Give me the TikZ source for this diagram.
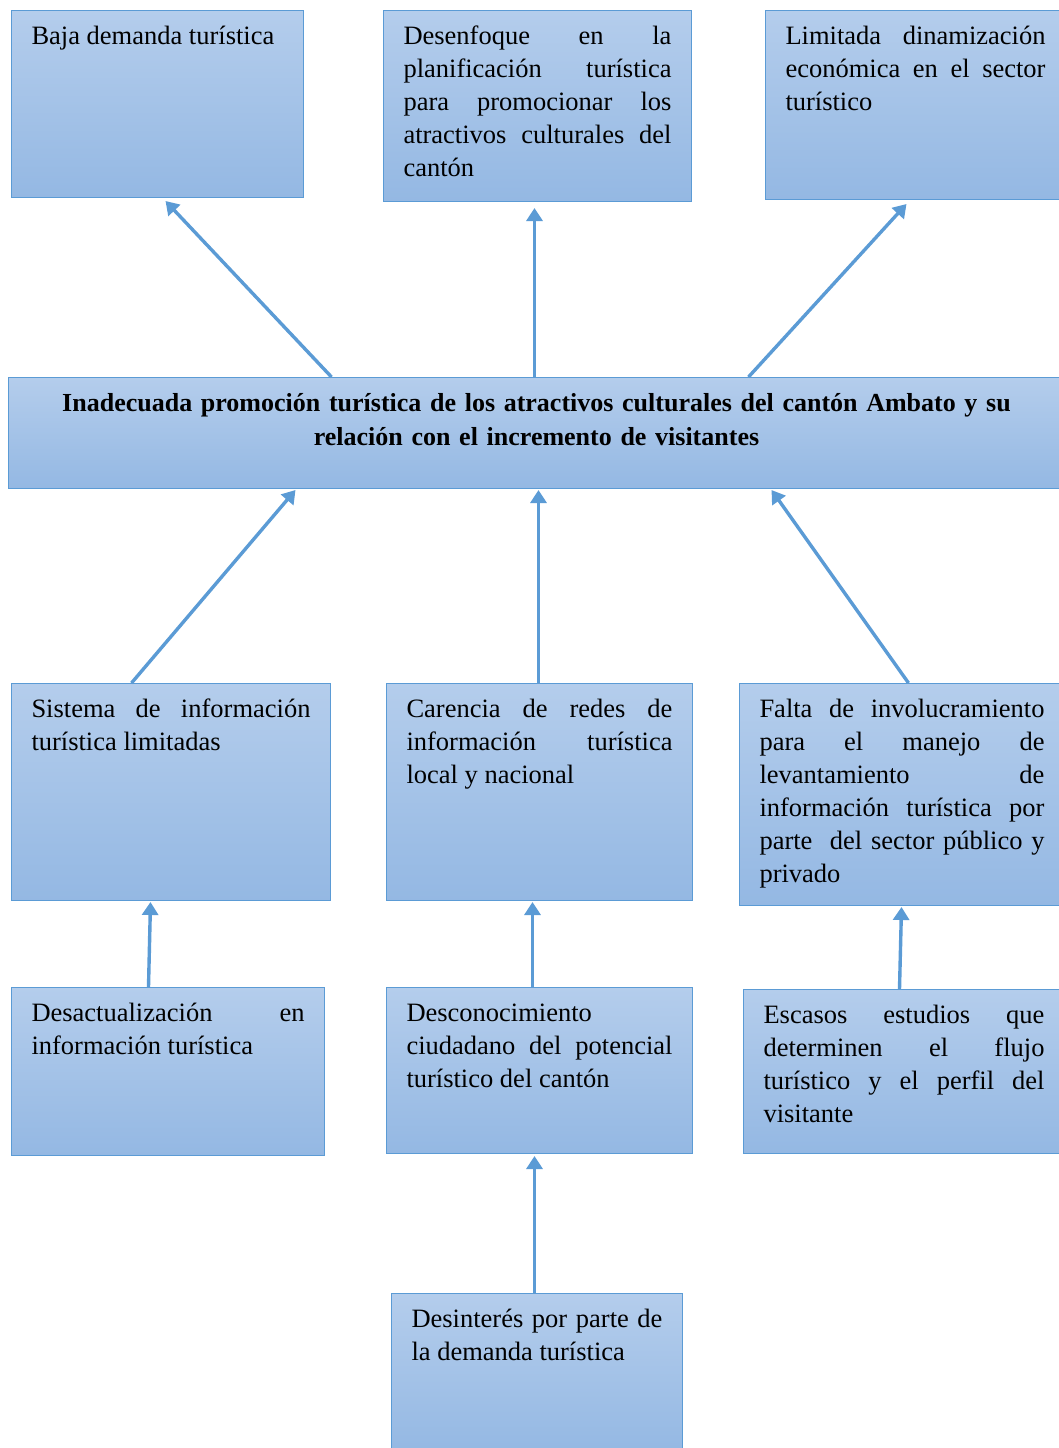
\documentclass[tikz,border=0pt]{standalone}
\usepackage{fontspec}
\setmainfont{Liberation Serif}
\usetikzlibrary{arrows.meta}
\definecolor{boxtop}{RGB}{180,205,236}
\definecolor{boxbottom}{RGB}{148,184,227}
\definecolor{edgeblue}{RGB}{91,155,213}
\tikzset{
  flow/.style={-{Triangle[length=13pt,width=16pt]},draw=edgeblue,line width=3.4pt},
  cell/.style={draw=edgeblue,line width=1pt,top color=boxtop,bottom color=boxbottom,
               anchor=north west,inner xsep=20pt,inner ysep=14pt,text height=20pt,
               align=justify,font=\fontsize{26.5}{33}\selectfont},
  problem/.style={cell,align=center,font=\fontsize{26}{34}\selectfont\bfseries},
  boxsize/.style 2 args={text width=#1pt-40pt,text depth=#2pt-48pt},
}
\hyphenpenalty=10000
\tolerance=10000
\hbadness=10000

\begin{document}
\begin{tikzpicture}[x=1pt,y=-1pt]
  \path[use as bounding box] (0,0) rectangle (1059,1448);

  % effects
  \node[cell,boxsize={292}{187}] (baja) at (11,10)
    {Baja demanda turística};
  \node[cell,boxsize={308}{191}] (desenfoque) at (383,10)
    {Desenfoque en la\linebreak planificación turística\linebreak para promocionar los\linebreak atractivos culturales del\linebreak cantón};
  \node[cell,boxsize={300}{189}] (limitada) at (765,10)
    {Limitada dinamización\linebreak económica en el sector\linebreak turístico};

  % central problem
  \node[problem,boxsize={1056}{111}] (core) at (8,377)
    {Inadecuada promoción turística de los atractivos culturales del cantón Ambato y su\\
     relación con el incremento de visitantes};

  % causes
  \node[cell,boxsize={319}{217}] (sistema) at (11,683)
    {Sistema de información\linebreak turística limitadas};
  \node[cell,boxsize={306}{217}] (carencia) at (386,683)
    {Carencia de redes de\linebreak información turística\linebreak local y nacional};
  \node[cell,boxsize={325}{222}] (falta) at (739,683)
    {Falta de involucramiento\linebreak para el manejo de\linebreak levantamiento de\linebreak información turística por\linebreak parte \ del sector público y\linebreak privado};

  % sub-causes
  \node[cell,boxsize={313}{168}] (desact) at (11,987)
    {Desactualización en\linebreak información turística};
  \node[cell,boxsize={306}{166}] (descon) at (386,987)
    {Desconocimiento\linebreak ciudadano del potencial\linebreak turístico del cantón};
  \node[cell,boxsize={321}{164}] (escasos) at (743,989)
    {Escasos estudios que\linebreak determinen el flujo\linebreak turístico y el perfil del\linebreak visitante};
  \node[cell,boxsize={291}{160}] (desint) at (391,1293)
    {Desinterés por parte de\linebreak la demanda turística};

  % arrows
  \draw[flow] ([xshift=-205pt]core.north) -- ([xshift=8pt,yshift=-3pt]baja.south);
  \draw[flow] ([xshift=-2pt]core.north) -- ([xshift=-3pt,yshift=-6pt]desenfoque.south);
  \draw[flow] ([xshift=212pt]core.north) -- ([xshift=-9pt,yshift=-4pt]limitada.south);
  \draw[flow] ([xshift=-39.5pt]sistema.north) -- ([xshift=-241pt,yshift=-1pt]core.south);
  \draw[flow] ([xshift=-1pt]carencia.north) -- ([xshift=2pt,yshift=-1pt]core.south);
  \draw[flow] ([xshift=6.5pt]falta.north) -- ([xshift=235pt,yshift=-1pt]core.south);
  \draw[flow] ([xshift=-19.5pt]desact.north) -- ([xshift=-20.5pt,yshift=-1pt]sistema.south);
  \draw[flow] ([xshift=-7pt]descon.north) -- ([xshift=-7pt,yshift=-1pt]carencia.south);
  \draw[flow] ([xshift=-4.5pt]escasos.north) -- ([xshift=-0.5pt,yshift=-1pt]falta.south);
  \draw[flow] ([xshift=-2.5pt]desint.north) -- ([xshift=-5pt,yshift=-2pt]descon.south);
\end{tikzpicture}
\end{document}
